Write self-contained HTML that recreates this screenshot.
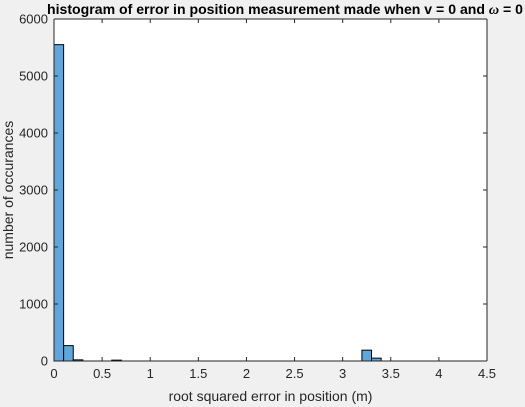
<!DOCTYPE html>
<html><head><meta charset="utf-8"><style>
body{margin:0;background:#f0f0f0;width:525px;height:407px;overflow:hidden;font-family:"Liberation Sans",Arial,sans-serif}
</style></head><body>
<svg id="chart" width="525" height="407" xmlns="http://www.w3.org/2000/svg" style="position:absolute;left:0;top:0">
<rect x="54" y="19" width="433" height="342" fill="#fff"/>
<g id="bars"></g>
<g id="axes"></g>
<text x="47" y="14" text-anchor="start" font-size="14" font-weight="bold" fill="#000" textLength="476" lengthAdjust="spacingAndGlyphs">histogram of error in position measurement made when v = 0 and <tspan font-style="italic" font-family="Liberation Serif, serif">ω</tspan> = 0</text>
<text x="270.5" y="401" text-anchor="middle" font-size="14" fill="#262626">root squared error in position (m)</text>
<text transform="translate(13,190) rotate(-90)" text-anchor="middle" font-size="14" fill="#262626">number of occurances</text>
</svg>
<script>
const binEdges=[0,0.1,0.2,0.6,3.2,3.3];
const binCounts=[5550,270,20,15,190,50];
const binWidth=0.1;
const xTicks=[0,0.5,1,1.5,2,2.5,3,3.5,4,4.5];
const xTickLabels=["0","0.5","1","1.5","2","2.5","3","3.5","4","4.5"];
const yTicks=[0,1000,2000,3000,4000,5000,6000];
const yTickLabels=["0","1000","2000","3000","4000","5000","6000"];
const L=54,R=487,T=19,B=361;
const xs=v=>L+(v/4.5)*(R-L);
const ys=v=>B-(v/6000)*(B-T);
const NS="http://www.w3.org/2000/svg";
const bars=document.getElementById('bars');
binEdges.forEach((e,i)=>{
 const r=document.createElementNS(NS,'rect');
 r.setAttribute('x',xs(e));r.setAttribute('width',xs(e+binWidth)-xs(e));
 r.setAttribute('y',ys(binCounts[i]));r.setAttribute('height',B-ys(binCounts[i]));
 r.setAttribute('fill','#60a6db');r.setAttribute('stroke','#000');r.setAttribute('stroke-width','1');
 
 
 bars.appendChild(r);
});
const ax=document.getElementById('axes');
function ln(x1,y1,x2,y2,name){const l=document.createElementNS(NS,'line');l.setAttribute('x1',x1);l.setAttribute('y1',y1);l.setAttribute('x2',x2);l.setAttribute('y2',y2);l.setAttribute('stroke','#262626');l.setAttribute('stroke-width','1');


ax.appendChild(l);}
ln(L,T,R,T,'axes-top');ln(L,B,R,B,'x-axis-line');ln(L,T,L,B,'y-axis-line');ln(R,T,R,B,'axes-right');
xTicks.forEach((v,i)=>{const x=xs(v);ln(x,B,x,B-4,'x-tick');ln(x,T,x,T+4,'x-tick-top');
 const t=document.createElementNS(NS,'text');t.setAttribute('x',x);t.setAttribute('y',B+17);t.setAttribute('text-anchor','middle');t.setAttribute('font-size','13');t.setAttribute('fill','#262626');t.textContent=xTickLabels[i];
 
 
 ax.appendChild(t);});
yTicks.forEach((v,i)=>{const y=ys(v);ln(L,y,L+4,y,'y-tick');ln(R,y,R-4,y,'y-tick-right');
 const t=document.createElementNS(NS,'text');t.setAttribute('x',L-6);t.setAttribute('y',y+4.5);t.setAttribute('text-anchor','end');t.setAttribute('font-size','13');t.setAttribute('fill','#262626');t.textContent=yTickLabels[i];
 
 
 ax.appendChild(t);});
</script>
</body></html>
